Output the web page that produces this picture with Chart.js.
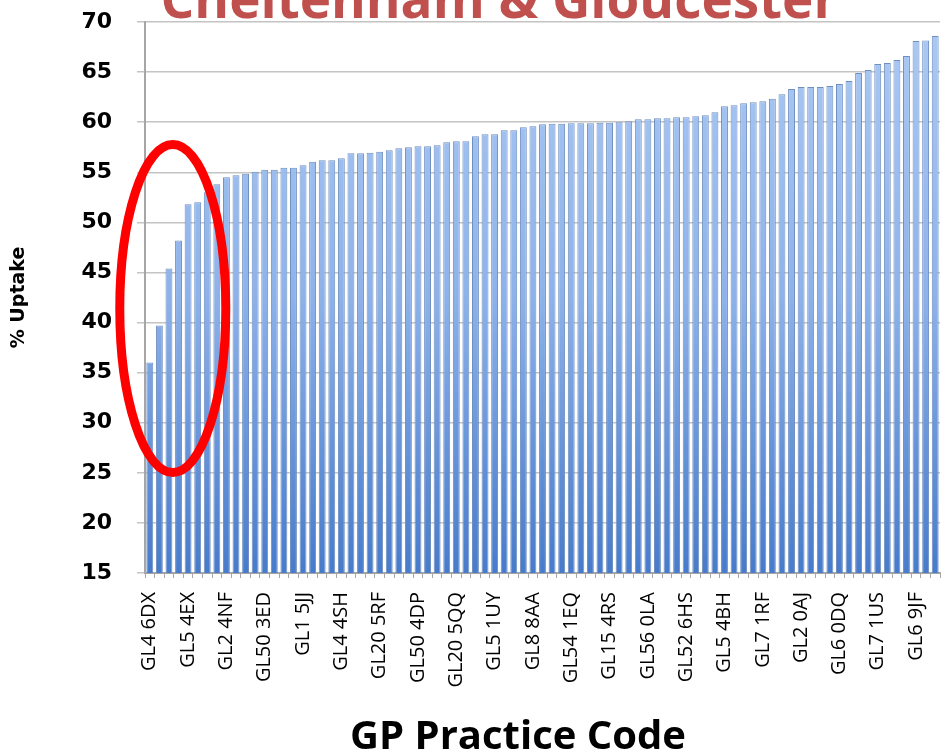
<!DOCTYPE html>
<html>
<head>
<meta charset="utf-8">
<title>Cheltenham & Gloucester - % Uptake by GP practice</title>
<script src="https://cdn.jsdelivr.net/npm/chart.js@4.4.1/dist/chart.umd.min.js"></script>
<style>
  html, body { margin: 0; padding: 0; background: #ffffff; }
  #wrap { position: relative; width: 942px; height: 754px; }
</style>
</head>
<body>
<div id="wrap"><canvas id="uptakeChart"></canvas></div>
<script>
// === DATA ===
const chartTitle = "Cheltenham & Gloucester";
const xTitle = "GP Practice Code";
const yTitle = "% Uptake";

// practice codes printed on the axis (every 4th practice)
const shownCodes = [
    "GL4 6DX", "GL5 4EX", "GL2 4NF", "GL50 3ED", "GL1 5JJ", "GL4 4SH", "GL20 5RF",
    "GL50 4DP", "GL20 5QQ", "GL5 1UY", "GL8 8AA", "GL54 1EQ", "GL15 4RS", "GL56 0LA",
    "GL52 6HS", "GL5 4BH", "GL7 1RF", "GL2 0AJ", "GL6 0DQ", "GL7 1US", "GL6 9JF"
];

// % uptake per practice, sorted low to high
const uptake = [
    36.0, 39.7, 45.4, 48.2, 51.8, 52.0, 53.0, 53.8, 54.5, 54.7,
    54.85, 55.05, 55.25, 55.25, 55.45, 55.45, 55.7, 56.05, 56.2, 56.2,
    56.4, 56.9, 56.9, 56.95, 57.05, 57.2, 57.4, 57.5, 57.6, 57.6,
    57.7, 58.0, 58.1, 58.1, 58.6, 58.8, 58.8, 59.2, 59.2, 59.5,
    59.6, 59.8, 59.85, 59.85, 59.9, 59.9, 59.9, 59.95, 59.95, 60.0,
    60.1, 60.3, 60.3, 60.4, 60.4, 60.5, 60.5, 60.6, 60.7, 61.0,
    61.6, 61.7, 61.9, 62.0, 62.1, 62.35, 62.8, 63.3, 63.5, 63.5,
    63.5, 63.6, 63.8, 64.1, 64.9, 65.2, 65.8, 65.9, 66.2, 66.6,
    68.1, 68.15, 68.6
];

const yMin = 15;
const yMax = 70;
const yStep = 5;

// highlighted low-uptake group (category index / value of the ring centre)
const ringCentre = { index: 2.4, value: 41.4 };

const labels = uptake.map((v, i) => (i % 4 === 0 ? shownCodes[i / 4] : ""));

// === PLUGINS ===
let barFill = null;
let barFillKey = null;

function getBarFill(chart) {
    const area = chart.chartArea;
    if (!area) return "#8fb3e9";
    const key = area.top + ":" + area.bottom;
    if (barFill && barFillKey === key) return barFill;
    const g = chart.ctx.createLinearGradient(0, area.top, 0, area.bottom);
    g.addColorStop(0, "#abc9f4");
    g.addColorStop(0.5, "#8db2ea");
    g.addColorStop(1, "#477bcb");
    barFill = g;
    barFillKey = key;
    return g;
}

const overlay = {
    id: "overlay",
    afterDatasetsDraw(chart) {
        const { ctx, scales } = chart;
        const cx = scales.x.getPixelForValue(ringCentre.index);
        const cy = scales.y.getPixelForValue(ringCentre.value);
        ctx.save();
        ctx.strokeStyle = "#ff0000";
        ctx.lineWidth = 9;
        ctx.beginPath();
        ctx.ellipse(cx, cy, 53, 164, 0, 0, Math.PI * 2);
        ctx.stroke();
        ctx.restore();
    },
    afterDraw(chart) {
        const ctx = chart.ctx;
        ctx.save();
        ctx.textAlign = "center";
        ctx.textBaseline = "alphabetic";
        ctx.fillStyle = "#c0504d";
        ctx.font = 'bold 53px "Open Sans"';
        ctx.fillText(chartTitle, 499, 18);
        ctx.fillStyle = "#000000";
        ctx.font = 'bold 40px "Open Sans"';
        ctx.fillText(xTitle, 518, 749);
        ctx.restore();
    }
};

// === CHART ===
new Chart(document.getElementById("uptakeChart"), {
    type: "bar",
    data: {
        labels: labels,
        datasets: [{
            label: yTitle,
            data: uptake,
            backgroundColor: (c) => getBarFill(c.chart),
            borderColor: "#6f8fbf",
            borderWidth: 1,
            barPercentage: 0.9,
            categoryPercentage: 0.8
        }]
    },
    options: {
        responsive: true,
        maintainAspectRatio: false,
        animation: false,
        layout: { padding: { top: 22, right: 2, left: 0, bottom: 0 } },
        plugins: {
            legend: { display: false },
            tooltip: { enabled: false }
        },
        scales: {
            x: {
                offset: true,
                grid: { drawOnChartArea: false, drawTicks: true, tickLength: 5, color: "#a6a6a6", offset: true },
                border: { color: "#a6a6a6", width: 2 },
                ticks: {
                    autoSkip: false,
                    maxRotation: 90,
                    minRotation: 90,
                    padding: 14,
                    color: "#000000",
                    font: { family: "Open Sans", size: 20 }
                },
                afterFit(scale) {
                    scale.height = 181;
                    scale.paddingLeft = 0;
                    scale.paddingRight = 0;
                }
            },
            y: {
                min: yMin,
                max: yMax,
                grid: { color: "#c4c4c4", lineWidth: 1.5, tickLength: 8 },
                border: { color: "#a6a6a6", width: 2 },
                ticks: {
                    stepSize: yStep,
                    padding: 25,
                    color: "#000000",
                    font: { family: "DejaVu Sans", size: 22, weight: "bold" }
                },
                title: {
                    display: true,
                    text: yTitle,
                    color: "#000000",
                    font: { family: "DejaVu Sans", size: 19, weight: "bold" },
                    padding: { top: 8, bottom: 0 }
                },
                afterFit(scale) {
                    scale.width = 145;
                    scale.paddingTop = 0;
                    scale.paddingBottom = 0;
                }
            }
        }
    },
    plugins: [overlay]
});
</script>
</body>
</html>
